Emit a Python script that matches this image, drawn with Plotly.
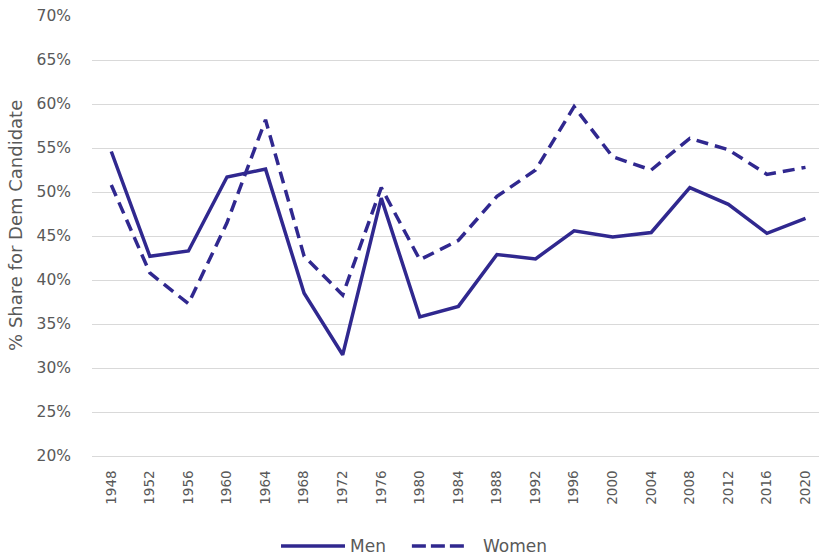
import plotly.graph_objects as go

years = ["1948", "1952", "1956", "1960", "1964", "1968", "1972", "1976", "1980", "1984",
         "1988", "1992", "1996", "2000", "2004", "2008", "2012", "2016", "2020"]
men = [54.6, 42.7, 43.3, 51.7, 52.6, 38.5, 31.5, 49.3, 35.8, 37.0,
       42.9, 42.4, 45.6, 44.9, 45.4, 50.5, 48.6, 45.3, 47.0]
women = [50.8, 40.8, 37.3, 46.5, 58.2, 42.7, 38.3, 50.5, 42.3, 44.5,
         49.5, 52.5, 59.7, 54.0, 52.5, 56.1, 54.8, 52.0, 52.8]
y_ticks = [20, 25, 30, 35, 40, 45, 50, 55, 60, 65, 70]
y_tick_labels = ["20%", "25%", "30%", "35%", "40%", "45%", "50%", "55%", "60%", "65%", "70%"]

LINE = "#30288F"
TXT = "#595959"
FONT = "DejaVu Sans"

fig = go.Figure()
fig.add_trace(go.Scatter(x=years, y=men, mode="lines", name="Men",
                         line=dict(color=LINE, width=3.5)))
fig.add_trace(go.Scatter(x=years, y=women, mode="lines", name="Women",
                         line=dict(color=LINE, width=3.5, dash="12px,7px")))

fig.update_layout(
    width=819, height=559,
    margin=dict(l=92, r=0, t=16, b=103),
    paper_bgcolor="white", plot_bgcolor="white",
    showlegend=False,
    font=dict(family=FONT, color=TXT),
    xaxis=dict(type="category", range=[-0.5, 18.35], tickangle=-90,
               tickfont=dict(size=13.5, color=TXT), showgrid=False,
               showline=True, linecolor="#d9d9d9", linewidth=1,
               ticks="", ticklabelstandoff=8, zeroline=False),
    yaxis=dict(range=[20, 70], tickmode="array", tickvals=y_ticks, ticktext=y_tick_labels,
               tickfont=dict(size=15.5, color=TXT), gridcolor="#d9d9d9",
               gridwidth=1, zeroline=False, showline=False, ticks="",
               ticklabelstandoff=20),
)

# Y-axis title
fig.add_annotation(text="% Share for Dem Candidate", xref="paper", yref="paper",
                   x=-0.106, y=0.525, xanchor="center", yanchor="middle",
                   textangle=-90, showarrow=False,
                   font=dict(size=18, color=TXT, family=FONT))

# Custom legend
fig.add_shape(type="line", xref="paper", yref="paper", x0=0.26, x1=0.348,
              y0=-0.2045, y1=-0.2045, line=dict(color=LINE, width=3.5))
fig.add_annotation(text="Men", xref="paper", yref="paper", x=0.352, y=-0.2045,
                   xanchor="left", yanchor="middle", showarrow=False,
                   font=dict(size=17, color=TXT, family=FONT))
fig.add_shape(type="line", xref="paper", yref="paper", x0=0.440, x1=0.512,
              y0=-0.2045, y1=-0.2045, line=dict(color=LINE, width=3.5, dash="14px,5px"))
fig.add_annotation(text="Women", xref="paper", yref="paper", x=0.535, y=-0.2045,
                   xanchor="left", yanchor="middle", showarrow=False,
                   font=dict(size=17, color=TXT, family=FONT))

fig.write_html("out.html", config={"displayModeBar": False},
               post_script="document.body.style.margin='0';document.body.style.overflow='hidden';")
